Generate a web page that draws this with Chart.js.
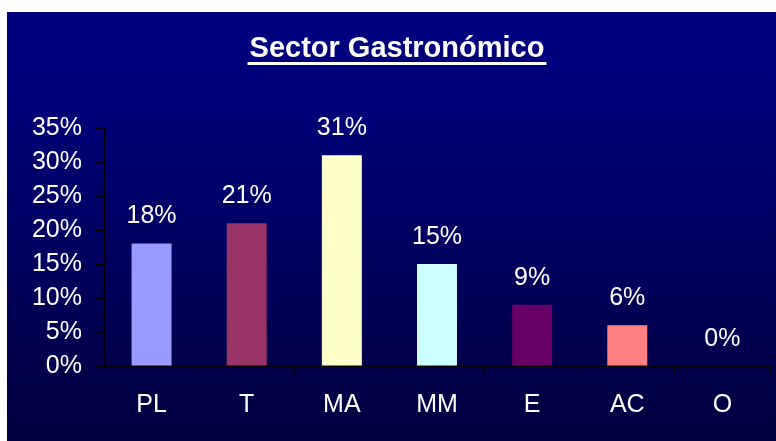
<!DOCTYPE html>
<html>
<head>
<meta charset="utf-8">
<script src="https://cdn.jsdelivr.net/npm/chart.js@4/dist/chart.umd.min.js"></script>
<style>
  html, body { margin: 0; padding: 0; background: #fff; }
  canvas { display: block; }
</style>
</head>
<body>
<canvas id="chart" width="776" height="441"></canvas>
<script>
// Chart data
const titleText = 'Sector Gastronómico';
const categories = ['PL', 'T', 'MA', 'MM', 'E', 'AC', 'O'];
const shares = [18, 21, 31, 15, 9, 6, 0];
const barColors = ['#9999FF', '#993366', '#FFFFCC', '#CCFFFF', '#660066', '#FF8080', '#FFFFFF'];
const yTicks = [0, 5, 10, 15, 20, 25, 30, 35];

const fontFamily = '"Liberation Sans", Arial, sans-serif';

// Dark blue panel behind the chart
const panelBackground = {
    id: 'panelBackground',
    beforeDraw(chart) {
        const ctx = chart.ctx;
        const g = ctx.createLinearGradient(0, 12, 0, chart.height);
        g.addColorStop(0, '#000080');
        g.addColorStop(0.2, '#00007a');
        g.addColorStop(1, '#00003f');
        ctx.save();
        ctx.fillStyle = g;
        ctx.fillRect(7, 12, chart.width - 7, chart.height - 12);
        ctx.restore();
    }
};

// Underlined title drawn on top
const underlinedTitle = {
    id: 'underlinedTitle',
    afterDraw(chart) {
        const ctx = chart.ctx;
        ctx.save();
        ctx.font = 'bold 29px ' + fontFamily;
        ctx.fillStyle = '#ffffff';
        ctx.textAlign = 'center';
        ctx.textBaseline = 'alphabetic';
        const cx = 397;
        ctx.fillText(titleText, cx, 57);
        const w = ctx.measureText(titleText).width + 4;
        ctx.fillRect(cx - w / 2, 62, w, 3);
        ctx.restore();
    }
};

// Percentage labels above each bar
const valueLabels = {
    id: 'valueLabels',
    afterDatasetsDraw(chart) {
        const ctx = chart.ctx;
        const meta = chart.getDatasetMeta(0);
        ctx.save();
        ctx.font = '25px ' + fontFamily;
        ctx.fillStyle = '#ffffff';
        ctx.textAlign = 'center';
        ctx.textBaseline = 'middle';
        meta.data.forEach((bar, i) => {
            ctx.fillText(shares[i] + '%', bar.x, bar.y - 27);
        });
        ctx.restore();
    }
};

new Chart(document.getElementById('chart'), {
    type: 'bar',
    data: {
        labels: categories,
        datasets: [{
            data: shares,
            backgroundColor: barColors,
            borderWidth: 0,
            categoryPercentage: 1,
            barPercentage: 0.42
        }]
    },
    options: {
        responsive: false,
        devicePixelRatio: 1,
        animation: false,
        layout: {
            padding: { top: 128, left: 0, right: 6, bottom: 0 }
        },
        plugins: {
            legend: { display: false },
            tooltip: { enabled: false },
            title: { display: false }
        },
        scales: {
            x: {
                afterFit(scale) { scale.height = 75; },
                grid: {
                    offset: true,
                    drawOnChartArea: false,
                    drawTicks: true,
                    tickLength: 8,
                    color: '#000000'
                },
                border: { color: '#000000', width: 1 },
                ticks: {
                    color: '#ffffff',
                    padding: 16,
                    font: { family: fontFamily, size: 25 }
                }
            },
            y: {
                min: yTicks[0],
                max: yTicks[yTicks.length - 1],
                afterBuildTicks(scale) {
                    scale.ticks = yTicks.map(v => ({ value: v }));
                },
                afterFit(scale) { scale.width = 104; },
                grid: {
                    drawOnChartArea: false,
                    drawTicks: true,
                    tickLength: 8,
                    color: '#000000'
                },
                border: { color: '#000000', width: 1 },
                ticks: {
                    color: '#ffffff',
                    padding: 14,
                    font: { family: fontFamily, size: 25 },
                    callback: v => v + '%'
                }
            }
        }
    },
    plugins: [panelBackground, valueLabels, underlinedTitle]
});
</script>
</body>
</html>
